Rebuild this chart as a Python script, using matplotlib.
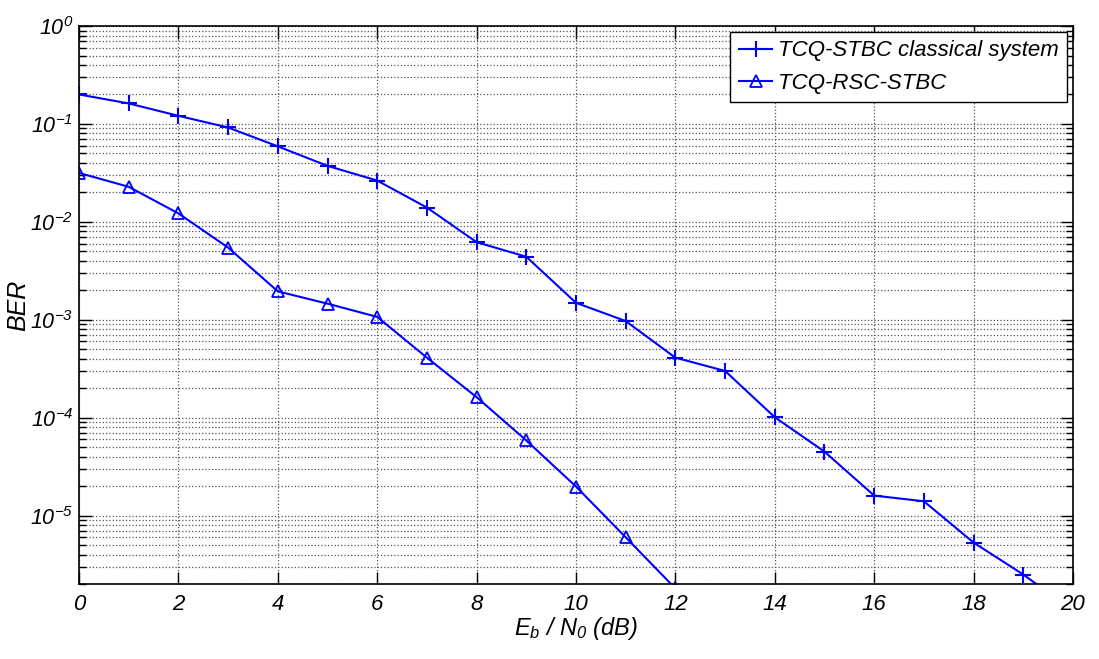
import matplotlib
matplotlib.use("Agg")
import matplotlib.pyplot as plt
from matplotlib.ticker import LogLocator, NullFormatter

plt.rcParams['font.family'] = ['Liberation Sans', 'DejaVu Sans']
plt.rcParams['font.style'] = 'italic'
plt.rcParams['mathtext.fontset'] = 'custom'
plt.rcParams['mathtext.rm'] = 'Liberation Sans:italic'
plt.rcParams['mathtext.it'] = 'Liberation Sans:italic'
plt.rcParams['mathtext.default'] = 'it'

# Eb/N0 in dB and BER values
snr_classical = [0, 1, 2, 3, 4, 5, 6, 7, 8, 9, 10, 11, 12, 13, 14, 15, 16, 17, 18, 19, 20]
ber_classical = [0.2, 0.162, 0.121, 0.092, 0.059, 0.0373, 0.0264, 0.014, 0.0062, 0.0044,
                 0.00149, 0.00097, 4.1e-4, 3.0e-4, 1.01e-4, 4.5e-5, 1.6e-5, 1.4e-5,
                 5.3e-6, 2.5e-6, 1.07e-6]
snr_rsc = [0, 1, 2, 3, 4, 5, 6, 7, 8, 9, 10, 11, 12]
ber_rsc = [0.0316, 0.0228, 0.0122, 0.00546, 0.00195, 0.00146, 0.00107, 4.1e-4,
           1.62e-4, 5.85e-5, 1.98e-5, 6.0e-6, 1.8e-6]

labels = ["TCQ-STBC classical system", "TCQ-RSC-STBC"]

fig = plt.figure(figsize=(10.99, 6.59), dpi=100)
ax = fig.add_axes([0.0719, 0.1138, 0.9044, 0.8467])

ax.semilogy(snr_classical, ber_classical, color='#0000ff', lw=1.5, marker='+',
            ms=11, mew=1.5, label=labels[0])
ax.semilogy(snr_rsc, ber_rsc, color='#0000ff', lw=1.5, marker='^', ms=8,
            mfc='none', mew=1.3, label=labels[1])

ax.set_xlim(0, 20)
ax.set_ylim(2e-6, 1)
ax.set_xticks(range(0, 21, 2))
ax.yaxis.set_major_locator(LogLocator(base=10, numticks=10))
ax.yaxis.set_minor_locator(LogLocator(base=10, subs=range(2, 10), numticks=20))
ax.yaxis.set_minor_formatter(NullFormatter())

ax.grid(True, which='major', ls=':', color='#555555', lw=0.9)
ax.grid(True, which='minor', axis='y', ls=':', color='#555555', lw=0.9)

ax.tick_params(which='both', direction='in', top=True, right=True, labelsize=16)
ax.tick_params(axis='y', labelsize=15.5, pad=4)
ax.tick_params(which='major', length=9, width=1)
ax.tick_params(which='minor', length=5, width=1)
ax.tick_params(axis='x', pad=7)
for s in ax.spines.values():
    s.set_linewidth(1.2)

ax.set_xlabel(r'$E_b\ /\ N_0\ (dB)$', fontsize=17, labelpad=0)
ax.set_ylabel('BER', fontsize=18)
ax.yaxis.set_label_coords(-0.049, 0.5)

leg = ax.legend(loc='upper right', fontsize=16, fancybox=False, edgecolor='black',
                framealpha=1, borderaxespad=0.25, handlelength=1.5, handletextpad=0.25,
                borderpad=0.4, labelspacing=0.5)
leg.get_frame().set_linewidth(1.0)

fig.savefig("out.png", dpi=100)
